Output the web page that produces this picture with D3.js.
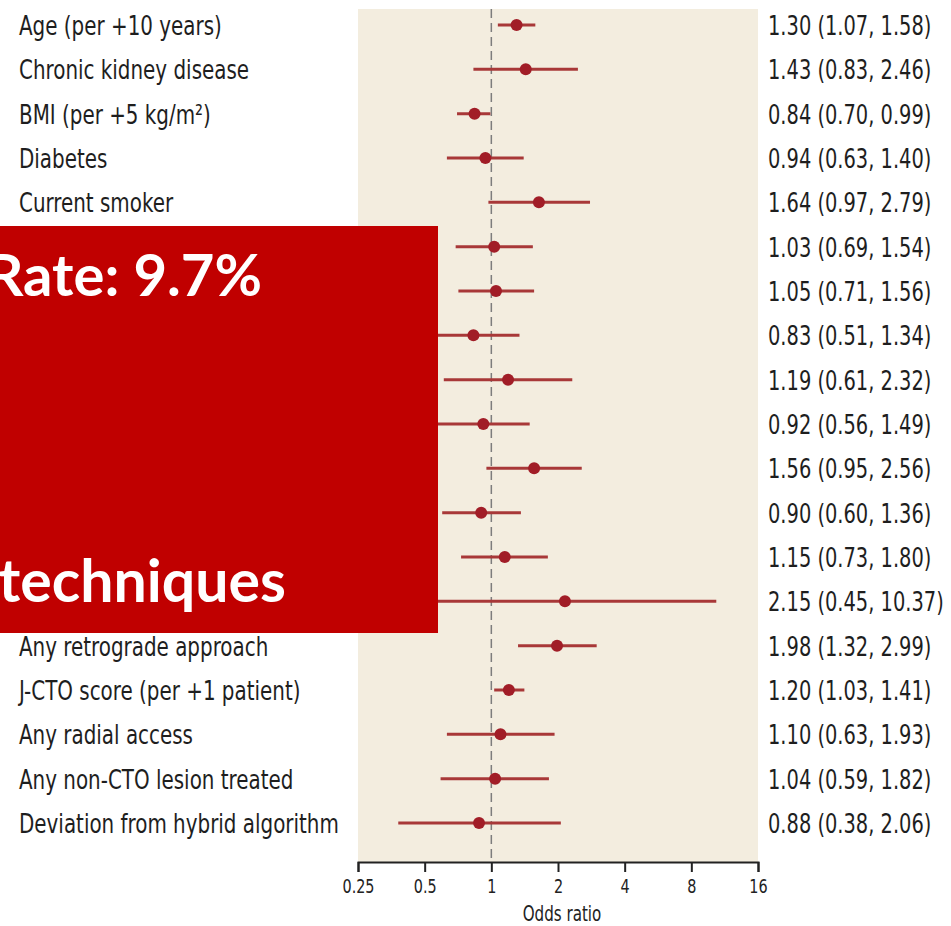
<!DOCTYPE html>
<html>
<head>
<meta charset="utf-8">
<script src="https://cdn.jsdelivr.net/npm/d3@7"></script>
<style>
  body { margin: 0; background: #fff; }
  svg { display: block; }
</style>
</head>
<body>
<div id="vis"></div>
<script>
// rows behind the red box have no readable label
const labels = [
  'Age (per +10 years)', 'Chronic kidney disease', 'BMI (per +5 kg/m\u00b2)', 'Diabetes', 'Current smoker',
  '', '', '', '', '', '', '', '', '',
  'Any retrograde approach', 'J-CTO score (per +1 patient)', 'Any radial access',
  'Any non-CTO lesion treated', 'Deviation from hybrid algorithm'
];
const oddsRatio = [1.30, 1.43, 0.84, 0.94, 1.64, 1.03, 1.05, 0.83, 1.19, 0.92, 1.56, 0.90, 1.15, 2.15, 1.98, 1.20, 1.10, 1.04, 0.88];
const ciLow = [1.07, 0.83, 0.70, 0.63, 0.97, 0.69, 0.71, 0.51, 0.61, 0.56, 0.95, 0.60, 0.73, 0.45, 1.32, 1.03, 0.63, 0.59, 0.38];
const ciHigh = [1.58, 2.46, 0.99, 1.40, 2.79, 1.54, 1.56, 1.34, 2.32, 1.49, 2.56, 1.36, 1.80, 10.37, 2.99, 1.41, 1.93, 1.82, 2.06];
const tickValues = [0.25, 0.5, 1, 2, 4, 8, 16];
const tickLabels = ['0.25', '0.5', '1', '2', '4', '8', '16'];

const width = 951, height = 926;
const panel = { left: 358, right: 758, top: 9, bottom: 862 };

const svg = d3.select('#vis').append('svg')
  .attr('width', width)
  .attr('height', height);

const x = d3.scaleLog().base(2)
  .domain([0.25, 16])
  .range([panel.left, panel.right]);

const y = d3.scalePoint()
  .domain(d3.range(labels.length))
  .range([25, 823]);

const fmt = d3.format('.2f');
// tall, narrow type: condensed font squeezed a bit more
const condensed = '"DejaVu Sans Condensed", "Liberation Sans", sans-serif';

// beige panel
svg.append('rect')
  .attr('x', panel.left).attr('y', panel.top)
  .attr('width', panel.right - panel.left)
  .attr('height', panel.bottom - panel.top)
  .attr('fill', '#f3eddf');

// reference line at OR = 1
svg.append('line')
  .attr('x1', x(1)).attr('x2', x(1))
  .attr('y1', panel.top).attr('y2', panel.bottom)
  .attr('stroke', '#7d7d7d')
  .attr('stroke-width', 1.5)
  .attr('stroke-dasharray', '9,5');

// confidence intervals
svg.selectAll('.ci')
  .data(oddsRatio)
  .enter().append('line')
  .attr('class', 'ci')
  .attr('x1', (d, i) => x(ciLow[i]))
  .attr('x2', (d, i) => x(ciHigh[i]))
  .attr('y1', (d, i) => y(i))
  .attr('y2', (d, i) => y(i))
  .attr('stroke', '#a83838')
  .attr('stroke-width', 3);

// point estimates
svg.selectAll('.pt')
  .data(oddsRatio)
  .enter().append('circle')
  .attr('class', 'pt')
  .attr('cx', d => x(d))
  .attr('cy', (d, i) => y(i))
  .attr('r', 6)
  .attr('fill', '#a11d27');

// row labels
const labG = svg.append('g').attr('transform', 'translate(19,0) scale(0.82,1)');
labG.selectAll('.lab')
  .data(labels)
  .enter().append('text')
  .attr('class', 'lab')
  .attr('x', 0)
  .attr('y', (d, i) => y(i) + 10)
  .attr('font-family', condensed)
  .attr('font-size', 27)
  .attr('fill', '#1e1e1e')
  .text(d => d);

// estimate text
const valG = svg.append('g').attr('transform', 'translate(768,0) scale(0.8,1)');
valG.selectAll('.val')
  .data(oddsRatio)
  .enter().append('text')
  .attr('class', 'val')
  .attr('x', 0)
  .attr('y', (d, i) => y(i) + 10)
  .attr('font-family', condensed)
  .attr('font-size', 27)
  .attr('fill', '#1e1e1e')
  .text((d, i) => fmt(d) + ' (' + fmt(ciLow[i]) + ', ' + fmt(ciHigh[i]) + ')');

// x axis
const axis = svg.append('g')
  .attr('transform', 'translate(0,' + panel.bottom + ')')
  .call(d3.axisBottom(x)
    .tickValues(tickValues)
    .tickFormat((d, i) => tickLabels[i])
    .tickSize(10)
    .tickPadding(7));
axis.select('.domain').attr('stroke', '#222').attr('stroke-width', 2);
axis.selectAll('.tick line').attr('stroke', '#222').attr('stroke-width', 2);
axis.selectAll('.tick text')
  .attr('font-family', condensed)
  .attr('font-size', 20)
  .attr('fill', '#222')
  .attr('transform', 'scale(0.8,1)');

svg.append('g')
  .attr('transform', 'translate(' + ((panel.left + panel.right) / 2 + 4) + ',921) scale(0.8,1)')
  .append('text')
  .attr('text-anchor', 'middle')
  .attr('font-family', condensed)
  .attr('font-size', 21)
  .attr('fill', '#222')
  .text('Odds ratio');

// red overlay box
svg.append('rect')
  .attr('x', 0).attr('y', 226)
  .attr('width', 438).attr('height', 407)
  .attr('fill', '#c00000');

svg.append('text')
  .attr('x', 262).attr('y', 296)
  .attr('text-anchor', 'end')
  .attr('font-family', 'Lato, "Open Sans", sans-serif')
  .attr('font-weight', 'bold')
  .attr('font-size', 58)
  .attr('fill', '#fff')
  .text('Rate: 9.7%');

svg.append('text')
  .attr('x', 286).attr('y', 602)
  .attr('text-anchor', 'end')
  .attr('font-family', 'Lato, "Open Sans", sans-serif')
  .attr('font-weight', 'bold')
  .attr('font-size', 59)
  .attr('fill', '#fff')
  .text('techniques');
</script>
</body>
</html>
